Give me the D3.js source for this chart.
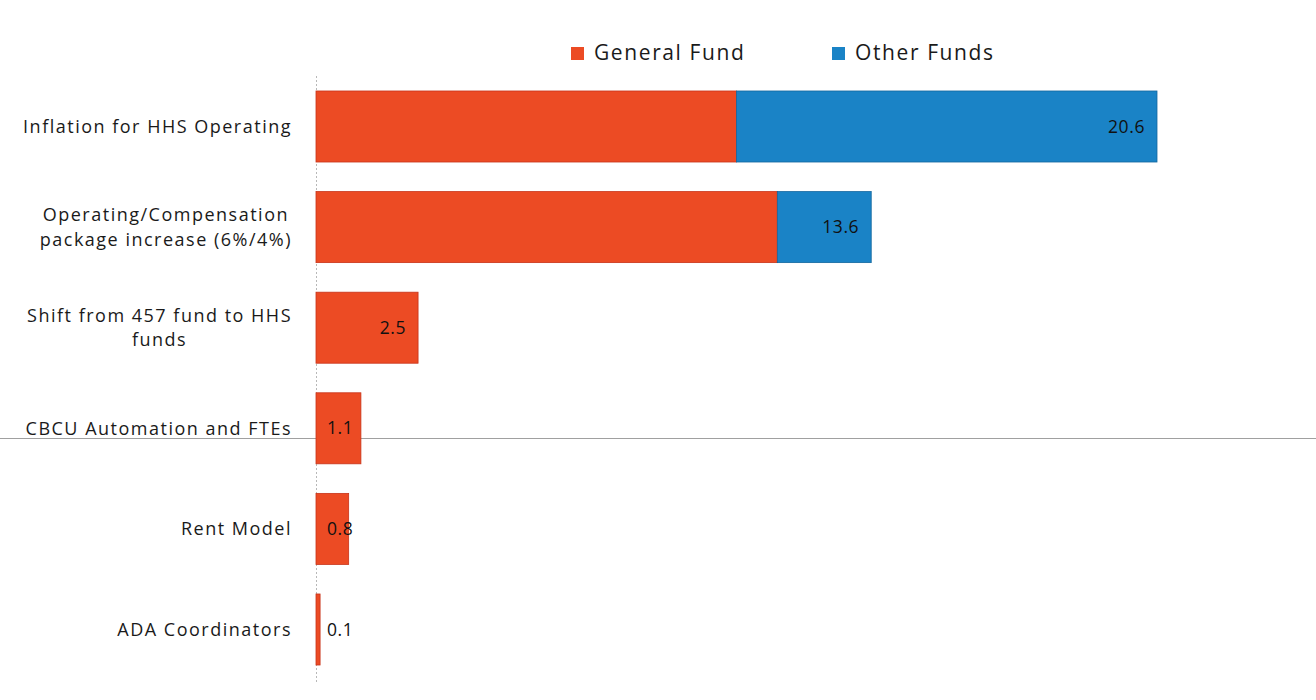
<!DOCTYPE html>
<html>
<head>
<meta charset="utf-8">
<script src="https://cdn.jsdelivr.net/npm/d3@7"></script>
<style>
  html, body { margin: 0; padding: 0; background: #fff; }
  svg { display: block; font-family: "Open Sans", "Noto Sans", sans-serif; }
</style>
</head>
<body>
<svg id="chart" width="1316" height="700"></svg>
<script>
// ---- data ----
const categories = [
  "Inflation for HHS Operating",
  "Operating/Compensation package increase (6%/4%)",
  "Shift from 457 fund to HHS funds",
  "CBCU Automation and FTEs",
  "Rent Model",
  "ADA Coordinators"
];
const categoryLines = [
  ["Inflation for HHS Operating"],
  ["Operating/Compensation", "package increase (6%/4%)"],
  ["Shift from 457 fund to HHS", "funds"],
  ["CBCU Automation and FTEs"],
  ["Rent Model"],
  ["ADA Coordinators"]
];
const generalFund = [10.3, 11.3, 2.5, 1.1, 0.8, 0.1];
const otherFunds  = [10.3, 2.3, 0, 0, 0, 0];
const totalLabels = ["20.6", "13.6", "2.5", "1.1", "0.8", "0.1"];
const seriesNames = ["General Fund", "Other Funds"];

// ---- layout ----
const svg = d3.select("#chart");
const x0 = 316;
const colors = ["#EC4B24", "#1A83C6"];
const strokes = ["#C8341A", "#14679E"];

const x = d3.scaleLinear().domain([0, 20.6]).range([x0, 1157]);
const y = d3.scaleBand().domain(categories).range([75.9, 680.1]).paddingInner(0.294).paddingOuter(0.15);

const rows = categories.map((c, i) => ({ cat: c, g: generalFund[i], o: otherFunds[i], lab: totalLabels[i], lines: categoryLines[i] }));

// scan artifact line
svg.append("line").attr("x1", 0).attr("x2", 1316).attr("y1", 438.5).attr("y2", 438.5)
  .attr("stroke", "#a0a0a0").attr("stroke-width", 1);

// vertical axis line (dotted, faint)
svg.append("line").attr("x1", x0 + 0.5).attr("x2", x0 + 0.5).attr("y1", 76).attr("y2", 682)
  .attr("stroke", "#b8b8b8").attr("stroke-width", 1).attr("stroke-dasharray", "2,2");

// stacked bars
const stack = d3.stack().keys(["g", "o"])(rows);
stack.forEach((layer, li) => {
  svg.append("g").selectAll("rect").data(layer.filter(d => d[1] > d[0])).join("rect")
    .attr("x", d => x(d[0]))
    .attr("y", d => y(d.data.cat))
    .attr("width", d => x(d[1]) - x(d[0]))
    .attr("height", y.bandwidth())
    .attr("fill", colors[li])
    .attr("stroke", strokes[li])
    .attr("stroke-width", 0.8);
});

// value labels
const labG = svg.append("g");
rows.forEach(r => {
  const end = x(r.g + r.o);
  const t = labG.append("text")
    .attr("y", y(r.cat) + y.bandwidth() / 2)
    .attr("dy", "0.35em")
    .attr("font-size", 17.5)
    .attr("letter-spacing", 0.6)
    .attr("fill", "#111")
    .text(r.lab);
  const w = t.node().getComputedTextLength();
  const xs = Math.max(end - 12 - w, x0 + 11);
  t.attr("x", xs);
});

// category labels
const catG = svg.append("g");
rows.forEach(r => {
  const cy = y(r.cat) + y.bandwidth() / 2;
  const n = r.lines.length;
  const lh = 24.5;
  const t = catG.append("text")
    .attr("font-size", 18)
    .attr("letter-spacing", 1.5)
    .attr("fill", "#1a1a1a")
    .attr("text-anchor", "start");
  const tmp = [];
  r.lines.forEach((ln, k) => {
    tmp.push(t.append("tspan").attr("y", cy + (k - (n - 1) / 2) * lh).attr("dy", "0.35em").text(ln));
  });
  const widths = tmp.map(s => s.node().getComputedTextLength());
  const wmax = d3.max(widths);
  const cx = 292 - wmax / 2;
  tmp.forEach((s, k) => s.attr("x", n === 1 ? 292 - widths[k] : cx - widths[k] / 2));
});

// legend
const legend = svg.append("g").attr("transform", "translate(571,53)");
const legX = [0, 261];
seriesNames.forEach((s, i) => {
  const g = legend.append("g").attr("transform", `translate(${legX[i]},0)`);
  g.append("rect").attr("x", 0).attr("y", -6).attr("width", 13).attr("height", 13).attr("fill", colors[i]);
  g.append("text").attr("x", 23).attr("y", 0).attr("dy", "0.35em")
    .attr("font-size", 21).attr("letter-spacing", 1.6)
    .attr("fill", "#1a1a1a").text(s);
});
</script>
</body>
</html>
